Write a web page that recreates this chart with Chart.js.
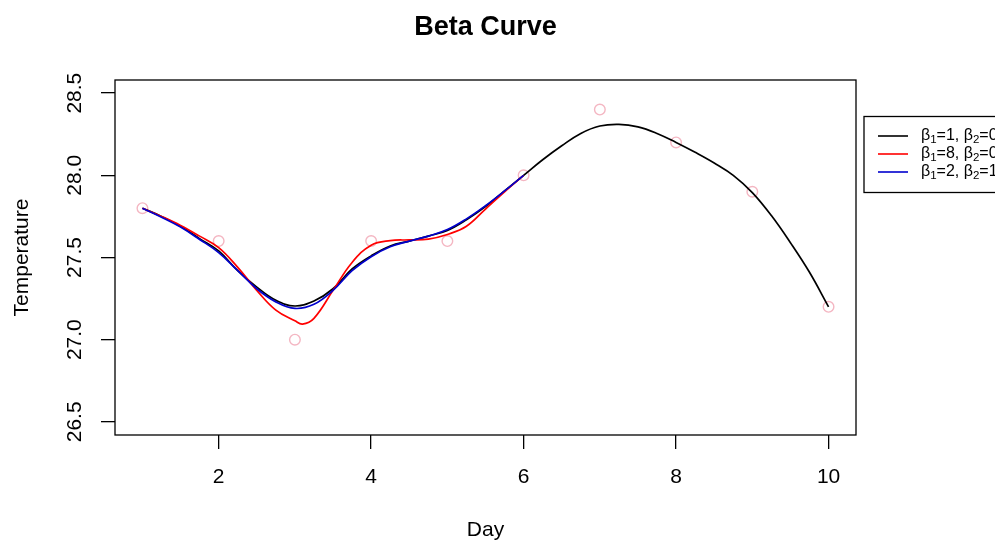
<!DOCTYPE html>
<html>
<head>
<meta charset="utf-8">
<script src="https://cdn.jsdelivr.net/npm/chart.js@4"></script>
<style>
html,body{margin:0;padding:0;background:#fff;}
canvas{display:block;}
</style>
</head>
<body>
<canvas id="c" width="995" height="543"></canvas>
<script>
// ---- data ----
const obsDay  = [1, 2, 3, 4, 5, 6, 7, 8, 9, 10];
const obsTemp = [27.8, 27.6, 27.0, 27.6, 27.6, 28.0, 28.4, 28.2, 27.9, 27.2];

const blackDay = [1,1.25,1.5,1.75,2,2.25,2.5,2.75,3,3.25,3.5,3.75,4,4.25,4.5,4.75,5,5.25,5.5,5.75,6,6.25,6.5,6.75,7,7.25,7.5,7.75,8,8.25,8.5,8.75,9,9.25,9.5,9.75,10];
const blackTemp = [27.80,27.75,27.69,27.615,27.54,27.42,27.32,27.24,27.205,27.235,27.31,27.43,27.51,27.57,27.60,27.63,27.665,27.73,27.81,27.905,28.00,28.095,28.18,28.255,28.30,28.31,28.295,28.255,28.20,28.14,28.075,28.00,27.895,27.755,27.59,27.41,27.20];

const redDay  = [1,1.25,1.5,1.75,2,2.25,2.5,2.75,3,3.1,3.25,3.5,3.75,4,4.25,4.5,4.75,5,5.25,5.5,5.75,6];
const redTemp = [27.80,27.75,27.695,27.63,27.56,27.44,27.30,27.18,27.115,27.095,27.13,27.30,27.47,27.575,27.603,27.607,27.612,27.64,27.69,27.795,27.90,28.00];

const blueDay  = [1,1.25,1.5,1.75,2,2.25,2.5,2.75,3,3.25,3.5,3.75,4,4.25,4.5,4.75,5,5.25,5.5,5.75,6];
const blueTemp = [27.80,27.745,27.685,27.61,27.53,27.42,27.31,27.23,27.19,27.215,27.30,27.42,27.505,27.565,27.60,27.63,27.67,27.735,27.815,27.905,28.00];

const xTicks = [2, 4, 6, 8, 10];
const yTicks = [26.5, 27.0, 27.5, 28.0, 28.5];
const yTickLabels = ['26.5', '27.0', '27.5', '28.0', '28.5'];
const legendB1 = ['1', '8', '2'];
const legendB2 = ['0', '0', '1'];
const legendColors = ['#000000', '#ff0000', '#0000cd'];
const titleText = 'Beta Curve';
const xTitle = 'Day';
const yTitle = 'Temperature';

const FONT = '"Liberation Sans", Arial, Helvetica, sans-serif';

function pts(xs, ys) { return xs.map((x, i) => ({x: x, y: ys[i]})); }

const decor = {
  id: 'decor',
  afterDraw(chart) {
    const ctx = chart.ctx;
    const a = chart.chartArea;
    const ys = chart.scales.y;
    ctx.save();
    // box
    ctx.strokeStyle = '#000';
    ctx.lineWidth = 1.3;
    ctx.strokeRect(a.left, a.top, a.right - a.left, a.bottom - a.top);
    // title
    ctx.fillStyle = '#000';
    ctx.textAlign = 'center';
    ctx.textBaseline = 'middle';
    ctx.font = 'bold 27px ' + FONT;
    ctx.fillText(titleText, (a.left + a.right) / 2, 28);
    // x title
    ctx.font = '21px ' + FONT;
    ctx.fillText(xTitle, (a.left + a.right) / 2, 530);
    // y tick labels (rotated)
    yTicks.forEach((v, i) => {
      const py = ys.getPixelForValue(v);
      ctx.save();
      ctx.translate(75, py);
      ctx.rotate(-Math.PI / 2);
      ctx.fillText(yTickLabels[i], 0, 0);
      ctx.restore();
    });
    // y title
    ctx.save();
    ctx.translate(22.5, (a.top + a.bottom) / 2);
    ctx.rotate(-Math.PI / 2);
    ctx.fillText(yTitle, 0, 0);
    ctx.restore();
    // legend
    const lx = 864, ltop = 116.5, lbot = 192.5;
    ctx.lineWidth = 1.3;
    ctx.strokeStyle = '#000';
    ctx.strokeRect(lx, ltop, 200, lbot - ltop);
    const rows = [136, 154, 172];
    rows.forEach((ry, i) => {
      ctx.strokeStyle = legendColors[i];
      ctx.lineWidth = 1.6;
      ctx.beginPath();
      ctx.moveTo(878, ry);
      ctx.lineTo(908, ry);
      ctx.stroke();
      let x = 921;
      ctx.textAlign = 'left';
      ctx.textBaseline = 'middle';
      const big = '16px ' + FONT, small = '11.5px ' + FONT;
      const parts = [['β', big, 0], ['1', small, 4], ['=' + legendB1[i] + ', β', big, 0], ['2', small, 4], ['=' + legendB2[i], big, 0]];
      parts.forEach(p => {
        ctx.font = p[1];
        ctx.fillStyle = '#000';
        ctx.fillText(p[0], x, ry + p[2]);
        x += ctx.measureText(p[0]).width;
      });
    });
    ctx.restore();
  }
};

new Chart(document.getElementById('c'), {
  type: 'line',
  data: {
    datasets: [
      { label: 'obs', data: pts(obsDay, obsTemp), showLine: false, pointRadius: 5.3, pointBorderWidth: 1.4,
        pointBorderColor: '#f4b6c2', pointBackgroundColor: 'rgba(0,0,0,0)', borderColor: '#f4b6c2', order: 4 },
      { label: 'b1', data: pts(blackDay, blackTemp), borderColor: '#000', borderWidth: 1.7, pointRadius: 0,
        tension: 0.4, fill: false, order: 3 },
      { label: 'b8', data: pts(redDay, redTemp), borderColor: '#ff0000', borderWidth: 1.7, pointRadius: 0,
        tension: 0.4, fill: false, order: 2 },
      { label: 'b2', data: pts(blueDay, blueTemp), borderColor: '#0000cd', borderWidth: 1.7, pointRadius: 0,
        tension: 0.4, fill: false, order: 1 }
    ]
  },
  options: {
    responsive: false,
    animation: false,
    layout: { padding: { top: 80, right: 139, left: 0, bottom: 0 } },
    plugins: { legend: { display: false }, title: { display: false }, tooltip: { enabled: false } },
    scales: {
      x: {
        type: 'linear', min: 0.64, max: 10.36,
        afterBuildTicks: s => { s.ticks = xTicks.map(v => ({value: v})); },
        afterFit: s => { s.height = 108; },
        border: { display: false },
        grid: { display: true, drawOnChartArea: false, drawTicks: true, tickLength: 14, color: '#000', lineWidth: 1.3 },
        ticks: { color: '#000', font: { family: FONT, size: 21 }, padding: 16, maxRotation: 0, autoSkip: false }
      },
      y: {
        type: 'linear', min: 26.42, max: 28.58,
        afterBuildTicks: s => { s.ticks = yTicks.map(v => ({value: v})); },
        afterFit: s => { s.width = 115; },
        border: { display: false },
        grid: { display: true, drawOnChartArea: false, drawTicks: true, tickLength: 14, color: '#000', lineWidth: 1.3 },
        ticks: { display: false }
      }
    }
  },
  plugins: [decor]
});
</script>
</body>
</html>
